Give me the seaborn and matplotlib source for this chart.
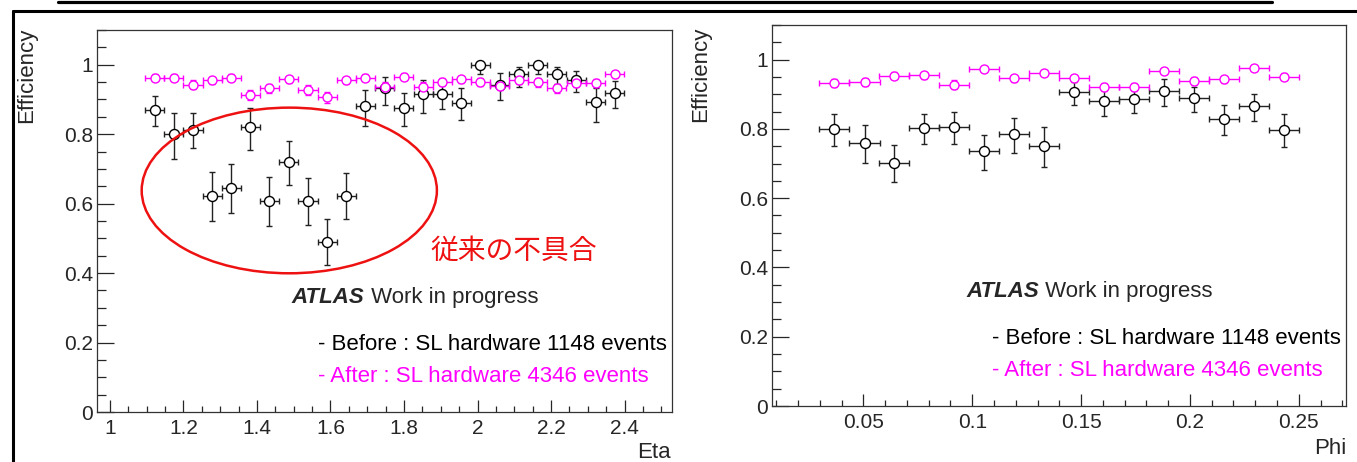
import numpy as np
import pandas as pd
import seaborn as sns
import matplotlib.pyplot as plt
from matplotlib.patches import Ellipse
from matplotlib.lines import Line2D
from matplotlib.ticker import MultipleLocator, FuncFormatter

# ---- dados ----
eta = [1.122, 1.174, 1.226, 1.278, 1.330, 1.382, 1.434, 1.487, 1.539, 1.591,
       1.643, 1.695, 1.747, 1.799, 1.852, 1.904, 1.956, 2.008, 2.060, 2.112,
       2.164, 2.216, 2.269, 2.321, 2.373]
eta_halfbin = 0.026
eta_before = [0.871, 0.800, 0.813, 0.622, 0.644, 0.820, 0.608, 0.719, 0.607, 0.491,
              0.623, 0.880, 0.934, 0.876, 0.917, 0.916, 0.890, 1.000, 0.943, 0.973,
              1.000, 0.974, 0.957, 0.892, 0.919]
eta_before_hi = [0.910, 0.861, 0.861, 0.692, 0.713, 0.876, 0.678, 0.781, 0.674, 0.557,
                 0.687, 0.926, 0.965, 0.920, 0.955, 0.955, 0.933, 1.000, 0.976, 0.993,
                 1.000, 0.993, 0.982, 0.934, 0.953]
eta_before_lo = [0.824, 0.728, 0.760, 0.550, 0.572, 0.754, 0.536, 0.654, 0.538, 0.423,
                 0.555, 0.825, 0.885, 0.825, 0.861, 0.874, 0.840, 0.972, 0.899, 0.936,
                 0.972, 0.945, 0.922, 0.835, 0.876]
eta_after = [0.962, 0.963, 0.943, 0.955, 0.962, 0.913, 0.932, 0.958, 0.927, 0.906,
             0.955, 0.962, 0.936, 0.966, 0.936, 0.950, 0.958, 0.950, 0.940, 0.957,
             0.949, 0.933, 0.948, 0.948, 0.972]
eta_after_err = [0.010, 0.010, 0.012, 0.011, 0.010, 0.015, 0.013, 0.011, 0.014, 0.015,
                 0.011, 0.010, 0.013, 0.010, 0.013, 0.012, 0.011, 0.012, 0.013, 0.011,
                 0.012, 0.013, 0.012, 0.012, 0.010]

phi = [0.0367, 0.0505, 0.0642, 0.0780, 0.0918, 0.1055, 0.1193, 0.1330,
       0.1468, 0.1606, 0.1743, 0.1881, 0.2018, 0.2156, 0.2294, 0.2431]
phi_halfbin = 0.0069
phi_before = [0.800, 0.758, 0.703, 0.802, 0.806, 0.735, 0.785, 0.750,
              0.906, 0.881, 0.886, 0.910, 0.889, 0.830, 0.867, 0.797]
phi_before_hi = [0.844, 0.810, 0.754, 0.844, 0.849, 0.782, 0.832, 0.805,
                 0.935, 0.919, 0.919, 0.945, 0.922, 0.870, 0.902, 0.842]
phi_before_lo = [0.752, 0.702, 0.648, 0.756, 0.757, 0.682, 0.731, 0.689,
                 0.868, 0.838, 0.847, 0.865, 0.850, 0.781, 0.824, 0.748]
phi_after = [0.933, 0.936, 0.954, 0.955, 0.928, 0.972, 0.946, 0.962,
             0.947, 0.920, 0.920, 0.968, 0.938, 0.943, 0.977, 0.950]
phi_after_err = [0.011, 0.011, 0.010, 0.010, 0.012, 0.008, 0.010, 0.009,
                 0.010, 0.012, 0.012, 0.009, 0.011, 0.010, 0.007, 0.010]

txt_before = "- Before : SL hardware 1148 events"
txt_after = "- After : SL hardware 4346 events"
txt_note = "従来の不具合"

MAGENTA = "#ff00ff"

sns.set_style("ticks")
plt.rcParams['font.family'] = ['Liberation Sans', 'DejaVu Sans']

fig = plt.figure(figsize=(13.57, 4.62), dpi=100)
ax1 = fig.add_axes([0.0715, 0.1082, 0.4237, 0.8268])
ax2 = fig.add_axes([0.5689, 0.1212, 0.4230, 0.8247])


def painel(ax, x, hb, yb, yb_hi, yb_lo, ya, ya_err):
    yb = np.array(yb)
    err_b = [yb - np.array(yb_lo), np.array(yb_hi) - yb]
    ax.errorbar(x, yb, yerr=err_b, xerr=hb, fmt='none', ecolor='#222222',
                elinewidth=1.0, capsize=2, capthick=1.0, zorder=2)
    ax.errorbar(x, ya, yerr=ya_err, xerr=hb, fmt='none', ecolor=MAGENTA,
                elinewidth=1.0, capsize=2, capthick=1.0, zorder=2)
    df_b = pd.DataFrame({'x': x, 'y': yb})
    df_a = pd.DataFrame({'x': x, 'y': ya})
    sns.scatterplot(data=df_b, x='x', y='y', ax=ax, marker='o', s=52,
                    color='white', edgecolor='black', linewidth=1.0, zorder=3)
    sns.scatterplot(data=df_a, x='x', y='y', ax=ax, marker='o', s=42,
                    color='white', edgecolor=MAGENTA, linewidth=1.0, zorder=4)
    ax.set_ylim(0, 1.1)
    ax.set_xlabel('')
    ax.set_ylabel('')
    ax.yaxis.set_major_locator(MultipleLocator(0.2))
    ax.yaxis.set_minor_locator(MultipleLocator(0.05))
    fmt = FuncFormatter(lambda v, p: f"{v:g}")
    ax.xaxis.set_major_formatter(fmt)
    ax.yaxis.set_major_formatter(fmt)
    ax.tick_params(axis='y', which='major', direction='in', length=12, width=0.9,
                   labelsize=15, pad=3)
    ax.tick_params(axis='y', which='minor', direction='in', length=6.3, width=0.9)
    ax.tick_params(axis='x', which='major', direction='in', length=8.5, width=0.9,
                   labelsize=15, pad=5)
    ax.tick_params(axis='x', which='minor', direction='in', length=4.3, width=0.9)
    for s in ax.spines.values():
        s.set_linewidth(0.9)
        s.set_color('#333333')
    # texto ATLAS
    t = ax.text(0.339, 0.30, "ATLAS", transform=ax.transAxes, fontsize=16,
                fontweight='bold', fontstyle='italic', va='center', ha='left')
    ax.annotate(" Work in progress", xy=(1, 0), xycoords=t, va='bottom',
                ha='left', fontsize=16)
    ax.text(0.384, 0.178, txt_before, transform=ax.transAxes, fontsize=16,
            va='center', ha='left', color='black')
    ax.text(0.384, 0.093, txt_after, transform=ax.transAxes, fontsize=16,
            va='center', ha='left', color=MAGENTA)


painel(ax1, eta, eta_halfbin, eta_before, eta_before_hi, eta_before_lo,
       eta_after, eta_after_err)
ax1.set_xlim(0.965, 2.529)
ax1.xaxis.set_major_locator(MultipleLocator(0.2))
ax1.xaxis.set_minor_locator(MultipleLocator(0.05))

painel(ax2, phi, phi_halfbin, phi_before, phi_before_hi, phi_before_lo,
       phi_after, phi_after_err)
ax2.set_xlim(0.008, 0.2717)
ax2.xaxis.set_major_locator(MultipleLocator(0.05))
ax2.xaxis.set_minor_locator(MultipleLocator(0.01))

# elipse vermelha e nota
ax1.add_patch(Ellipse((1.488, 0.638), 0.803, 0.477, fill=False,
                      edgecolor='#ee1111', linewidth=1.8, zorder=5))
ax1.text(0.579, 0.421, txt_note, transform=ax1.transAxes, fontsize=20,
         color='#ee1111', va='center', ha='left',
         family=['Noto Sans CJK JP', 'DejaVu Sans'])

# rótulos dos eixos
fig.text(27 / 1357, 1 - 28 / 462, "Efficiency", rotation=90, ha='center',
         va='top', fontsize=16)
fig.text(701 / 1357, 1 - 27 / 462, "Efficiency", rotation=90, ha='center',
         va='top', fontsize=16)
fig.text(671 / 1357, 4 / 462, "Eta", ha='right', va='baseline', fontsize=16)
fig.text(1346 / 1357, 8 / 462, "Phi", ha='right', va='baseline', fontsize=16)

# moldura do slide
fig.add_artist(Line2D([58 / 1357, 1272 / 1357], [1 - 1.5 / 462, 1 - 1.5 / 462],
                      color='black', linewidth=2.3))
fig.add_artist(Line2D([13.5 / 1357, 1.0], [1 - 11 / 462, 1 - 11 / 462],
                      color='black', linewidth=2.2))
fig.add_artist(Line2D([13.5 / 1357, 13.5 / 1357], [0, 1 - 11 / 462],
                      color='black', linewidth=2.2))

fig.savefig('out.png', dpi=100)
